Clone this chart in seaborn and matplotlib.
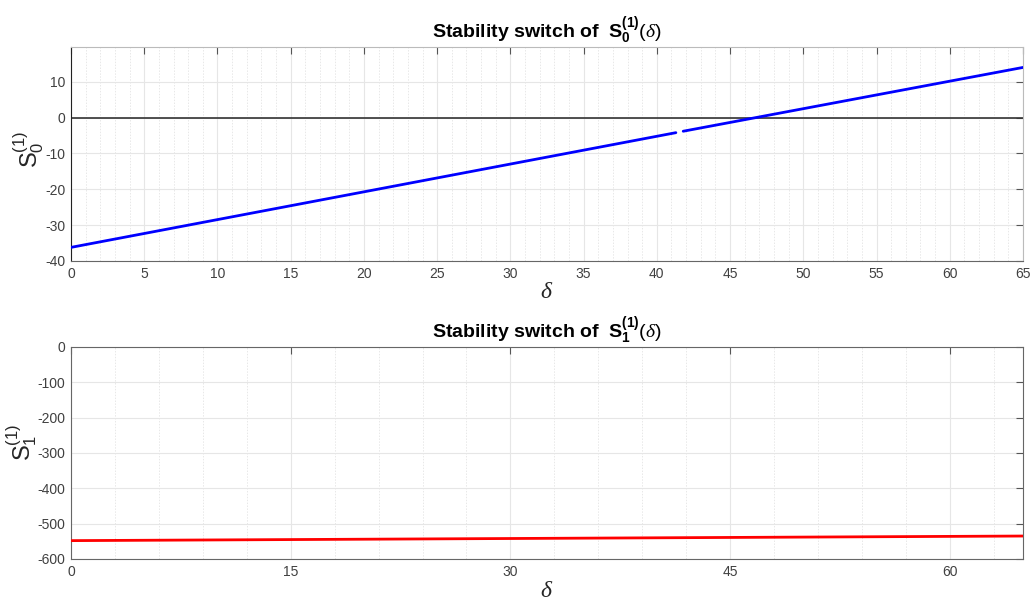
import numpy as np
import pandas as pd
import matplotlib
matplotlib.use("Agg")
import matplotlib.pyplot as plt
import seaborn as sns
from matplotlib.ticker import MultipleLocator

# ---- data ----
delta_top = [0.0, 41.3, 41.8, 65.0]
s0_values = [-36.2, -4.2, -3.8, 14.0]
s0_segment = [0, 0, 1, 1]
delta_bot = [0.0, 65.0]
s1_values = [-548.0, -535.0]
top_yticks = [-40, -30, -20, -10, 0, 10]
top_xticks = list(range(0, 66, 5))
bot_yticks = [-600, -500, -400, -300, -200, -100, 0]
bot_xticks = [0, 15, 30, 45, 60]

sns.set_style("white")
plt.rcParams['font.family'] = ['Liberation Sans', 'DejaVu Sans']
plt.rcParams['axes.unicode_minus'] = False
plt.rcParams['mathtext.fontset'] = 'custom'
plt.rcParams['mathtext.rm'] = 'Liberation Sans'
plt.rcParams['mathtext.bf'] = 'Liberation Sans:bold'
plt.rcParams['mathtext.it'] = 'Liberation Serif:italic'
plt.rcParams['mathtext.sf'] = 'Liberation Sans'

fig = plt.figure(figsize=(10.3, 6.03), dpi=100)
W, H = 1030, 603
ax1 = fig.add_axes([71 / W, 1 - 261 / H, 952 / W, 214 / H])
ax2 = fig.add_axes([71 / W, 1 - 559 / H, 952 / W, 212 / H])

df1 = pd.DataFrame({"delta": delta_top, "S0": s0_values, "seg": s0_segment})
df2 = pd.DataFrame({"delta": delta_bot, "S1": s1_values})

def style(ax, xmaj, xmin, yticks, ylim):
    ax.set_xlim(0, 65)
    ax.set_ylim(*ylim)
    ax.set_xticks(xmaj)
    ax.set_yticks(yticks)
    ax.xaxis.set_minor_locator(MultipleLocator(xmin))
    ax.grid(True, which='major', color='#e6e6e6', linewidth=0.8, zorder=0)
    ax.grid(True, which='minor', axis='x', color='#e8e8e8', linewidth=0.7,
            linestyle=(0, (1.5, 1.5)), zorder=0)
    ax.tick_params(axis='both', which='major', direction='in', length=5,
                   width=0.8, color='#555555', labelsize=10, labelcolor='#404040',
                   top=True, right=True, pad=4)
    ax.tick_params(axis='both', which='minor', length=0)
    for s in ax.spines.values():
        s.set_color('#666666')
        s.set_linewidth(0.8)
    ax.set_axisbelow(True)

style(ax1, top_xticks, 1, top_yticks, (-40, 19.7))
style(ax2, bot_xticks, 3, bot_yticks, (-600, 0))
ax1.spines['left'].set_color('#222222')
ax1.spines['top'].set_color('#bbbbbb')
ax1.spines['right'].set_color('#bbbbbb')

ax1.axhline(0, color='#333333', linewidth=1.2, zorder=2)
sns.lineplot(data=df1, x="delta", y="S0", units="seg", ax=ax1, color='#0000ff',
             linewidth=2.0, zorder=3, estimator=None, sort=False)
sns.lineplot(data=df2, x="delta", y="S1", ax=ax2, color='#ff0000',
             linewidth=2.0, zorder=3, estimator=None, sort=False)

ax1.set_title(r"Stability switch of  $\mathbf{S}_\mathbf{0}^\mathbf{(1)}(\delta)$",
              fontsize=14, fontweight='bold', color='black', pad=6)
ax2.set_title(r"Stability switch of  $\mathbf{S}_\mathbf{1}^\mathbf{(1)}(\delta)$",
              fontsize=14, fontweight='bold', color='black', pad=6)

ax1.set_xlabel(r"$\delta$", fontsize=17, labelpad=0)
ax2.set_xlabel(r"$\delta$", fontsize=17, labelpad=1)
ax1.set_ylabel(r"$\mathrm{S}_0^{(1)}$", fontsize=17)
ax2.set_ylabel(r"$\mathrm{S}_1^{(1)}$", fontsize=17)
ax1.yaxis.set_label_coords(-0.026, 0.52)
ax2.yaxis.set_label_coords(-0.034, 0.55)

fig.savefig("out.png", dpi=100)
